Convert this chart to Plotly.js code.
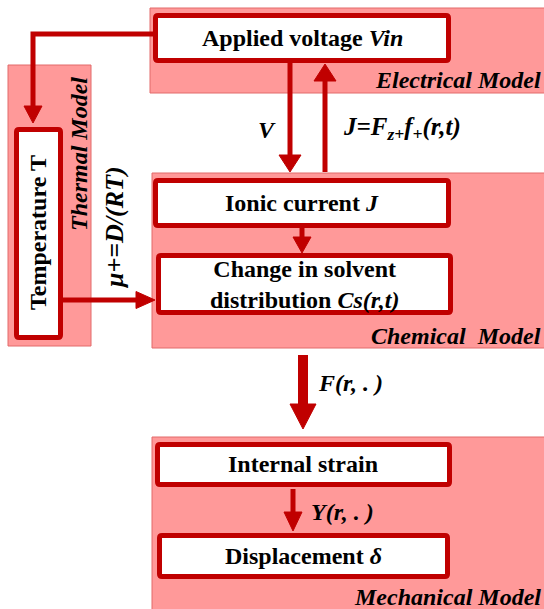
<!DOCTYPE html>
<html>
<head>
<meta charset="utf-8">
<script src="https://cdn.plot.ly/plotly-3.0.1.min.js"></script>
<style>html,body{margin:0;padding:0;background:#fff;}#chart{width:544px;height:609px;}</style>
</head>
<body>
<div id="chart"></div>
<script>
// ---- diagram content (text) ----
const panelNames = ["Electrical Model", "Chemical&nbsp;&nbsp;Model", "Mechanical Model", "Thermal Model"];
const boxLabels = ["Applied voltage <i>Vin</i>", "Ionic current <i>J</i>", "Change in solvent<br>distribution <i>Cs(r,t)</i>", "Internal strain", "Displacement <i>δ</i>", "Temperature T"];
const arrowLabels = ["V", "J=F<sub>z+</sub>f<sub>+</sub>(r,t)", "μ+=D/(RT)", "F(r, . )", "Y(r, . )"];

// ---- layout geometry (pixels, y downwards) ----
const RED = "#C00000";
const FILL = "#FF9999";
const PANEL_LINE = "#E26B6B";
const FONT = "Liberation Serif";
const FS = 24;

const panels = [
  {x0:150, x1:550, y0:8,   y1:93},
  {x0:152, x1:550, y0:173, y1:348},
  {x0:152, x1:550, y0:437, y1:615},
  {x0:8,   x1:91,  y0:65,  y1:346}
];
const boxes = [
  {x0:155.5, x1:448.5, y0:15.5,  y1:60.5,  cx:302, cy:38},
  {x0:155.5, x1:448.5, y0:180.5, y1:225.5, cx:302, cy:203},
  {x0:158.5, x1:450.5, y0:255.5, y1:312.5, cx:304, cy:284},
  {x0:157.5, x1:449.5, y0:444.5, y1:484.5, cx:303, cy:464},
  {x0:159.5, x1:447.5, y0:535.5, y1:576.5, cx:303, cy:556},
  {x0:16.5,  x1:60.5,  y0:129.5, y1:337.5, cx:38,  cy:233}
];

const shapes = [];
panels.forEach(p => shapes.push({type:"rect", xref:"x", yref:"y", x0:p.x0, x1:p.x1, y0:p.y0, y1:p.y1,
  fillcolor:FILL, line:{color:PANEL_LINE, width:1}, layer:"below"}));
function roundRect(b, r) {
  const {x0, x1, y0, y1} = b;
  return `M${x0+r},${y0} L${x1-r},${y0} Q${x1},${y0} ${x1},${y0+r} L${x1},${y1-r} Q${x1},${y1} ${x1-r},${y1} ` +
         `L${x0+r},${y1} Q${x0},${y1} ${x0},${y1-r} L${x0},${y0+r} Q${x0},${y0} ${x0+r},${y0} Z`;
}
boxes.forEach(b => shapes.push({type:"path", xref:"x", yref:"y", path:roundRect(b, 2.5),
  fillcolor:"#FFFFFF", line:{color:RED, width:5}, layer:"above"}));

function seg(pts, w) {
  const d = "M" + pts.map(p => p[0] + "," + p[1]).join(" L");
  shapes.push({type:"path", xref:"x", yref:"y", path:d, line:{color:RED, width:w}, layer:"above"});
}
function head(tip, base, halfw) {
  const dx = tip[0]-base[0], dy = tip[1]-base[1];
  const L = Math.hypot(dx, dy), nx = -dy/L, ny = dx/L;
  const a = [base[0]+nx*halfw, base[1]+ny*halfw], b = [base[0]-nx*halfw, base[1]-ny*halfw];
  shapes.push({type:"path", xref:"x", yref:"y",
    path:`M${a[0]},${a[1]} L${b[0]},${b[1]} L${tip[0]},${tip[1]} Z`,
    fillcolor:RED, line:{color:RED, width:1}, layer:"above"});
}
seg([[155,34],[33,34],[33,108]], 5); head([33,123],[33,106],9);
seg([[290,62],[290,158]], 5); head([290,172],[290,155],11);
seg([[325,172],[325,80]], 5); head([325,64],[325,81],11);
seg([[302,227],[302,240]], 5); head([302,253],[302,237],9);
seg([[62,300],[138,300]], 5); head([155,300],[136,300],8.5);
seg([[303,355],[303,406]], 10); head([303,429],[303,404],13);
seg([[293,489],[293,514]], 5); head([293,531],[293,512],9);

const ann = [];
function txt(text, x, y, o, size) {
  ann.push(Object.assign({text:text, x:x, y:y, xref:"x", yref:"y", showarrow:false,
    xanchor:"center", yanchor:"middle", font:{family:FONT, size:size||FS, color:"#000000"}}, o||{}));
}
const B = s => "<b>" + s + "</b>";
const BI = s => "<b><i>" + s + "</i></b>";
boxes.forEach((b, i) => {
  txt(B(boxLabels[i]), b.cx, b.cy, i === 5 ? {textangle:-90} : {});
});
txt(BI(panelNames[0]), 543, 80, {xanchor:"right"});
txt(BI(panelNames[1]), 543, 336, {xanchor:"right"});
txt(BI(panelNames[2]), 543, 597, {xanchor:"right"});
txt(BI(panelNames[3]), 79, 154, {textangle:-90});
txt(BI(arrowLabels[0]), 267, 130);
txt(BI(arrowLabels[1]), 341, 128, {xanchor:"left"}, 25);
txt(BI(arrowLabels[2]), 114, 228, {textangle:-90}, 26);
txt(BI(arrowLabels[3]), 316, 383, {xanchor:"left"});
txt(BI(arrowLabels[4]), 309, 512, {xanchor:"left"});

const layout = {
  width:544, height:609,
  margin:{l:0, r:0, t:0, b:0},
  font:{family:FONT, size:FS, color:"#000000"},
  paper_bgcolor:"#FFFFFF", plot_bgcolor:"#FFFFFF",
  xaxis:{range:[0,544], visible:false, fixedrange:true},
  yaxis:{range:[609,0], visible:false, fixedrange:true},
  showlegend:false,
  shapes:shapes,
  annotations:ann
};
Plotly.newPlot("chart", [], layout, {displayModeBar:false, staticPlot:true});
</script>
</body>
</html>
